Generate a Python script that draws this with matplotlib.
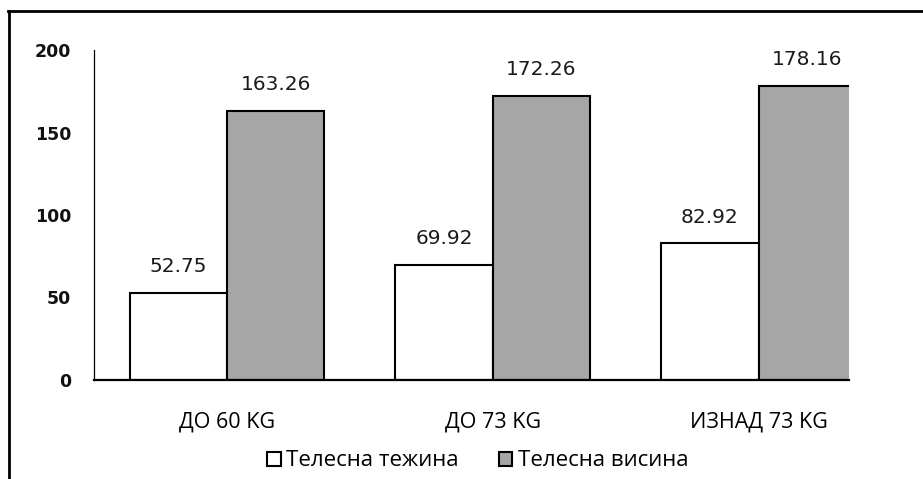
import numpy as np
import matplotlib.pyplot as plt
from matplotlib.lines import Line2D

categories = ['ДО 60 KG', 'ДО 73 KG', 'ИЗНАД 73 KG']
weight = [52.75, 69.92, 82.92]
height = [163.26, 172.26, 178.16]
series_names = ['Телесна тежина', 'Телесна висина']
yticks = [0, 50, 100, 150, 200]

W, H = 923, 479
fig = plt.figure(figsize=(W / 100, H / 100), dpi=100)
ax = fig.add_axes([94 / W, (H - 380) / H, (849 - 94) / W, 330 / H])

x = np.arange(len(categories))
bw = 0.366
b1 = ax.bar(x - bw / 2, weight, bw, color='white', edgecolor='black', linewidth=1.5,
            label=series_names[0])
b2 = ax.bar(x + bw / 2, height, bw, color='#a6a6a6', edgecolor='black', linewidth=1.5,
            label=series_names[1])

for bars, vals in ((b1, weight), (b2, height)):
    for r, v in zip(bars, vals):
        ax.annotate('%.2f' % v, (r.get_x() + r.get_width() / 2, v),
                    xytext=(0, 12), textcoords='offset points',
                    ha='center', va='bottom', fontsize=14.5, family='DejaVu Sans',
                    color='#1a1a1a')

ax.set_xlim(-0.5, 2.34)
ax.set_ylim(0, 200)
ax.set_yticks(yticks)
ax.set_yticklabels([str(t) for t in yticks], family='DejaVu Sans', fontweight='bold',
                   fontsize=12.5, color='#111111')
ax.set_xticks(x)
ax.set_xticklabels(categories, family='Open Sans', fontsize=15.5)
ax.tick_params(axis='y', length=0, pad=16.5)
ax.tick_params(axis='x', length=0, pad=22.5)
for s in ('top', 'right'):
    ax.spines[s].set_visible(False)
ax.spines['left'].set_linewidth(0.9)
ax.spines['bottom'].set_linewidth(1.6)

fig.legend(handles=[b1, b2], labels=series_names, loc='center',
           bbox_to_anchor=(478 / W, 1 - 461 / H), ncol=2, frameon=False,
           prop={'family': 'Open Sans', 'size': 16},
           handlelength=0.6, handleheight=0.6, handletextpad=0.25, columnspacing=1.8)

# outer frame: left and top edges
fig.add_artist(Line2D([9 / W, 9 / W], [0, 1 - 11 / H], color='black', lw=2,
                      transform=fig.transFigure))
fig.add_artist(Line2D([8 / W, 1], [1 - 11 / H, 1 - 11 / H], color='black', lw=2,
                      transform=fig.transFigure))

fig.savefig('out.png', dpi=100)
